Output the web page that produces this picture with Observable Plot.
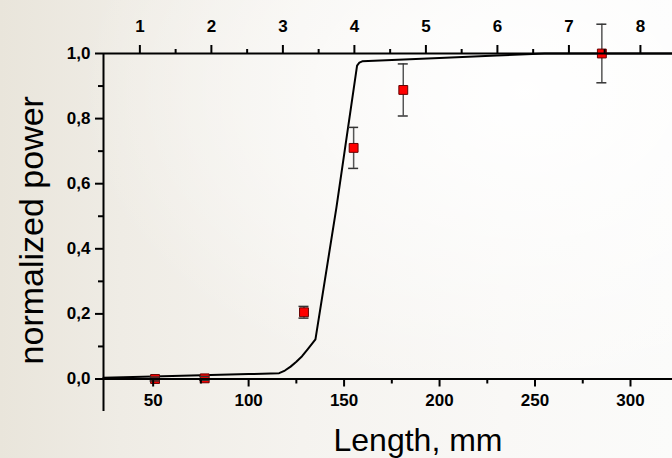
<!DOCTYPE html>
<html>
<head>
<meta charset="utf-8">
<script src="https://cdn.jsdelivr.net/npm/d3@7"></script>
<script src="https://cdn.jsdelivr.net/npm/@observablehq/plot@0.6"></script>
<style>
  html, body { margin: 0; padding: 0; }
  body {
    width: 672px; height: 458px; overflow: hidden;
    background:
      radial-gradient(ellipse at 78% 20%, rgba(255,255,255,0.95) 0%, rgba(255,255,255,0) 60%),
      linear-gradient(to right, #e9e5db 0%, #efece5 18%, #f5f3ef 45%, #f9f8f6 75%, #fbfbfa 100%);
  }
  #chart svg { display: block; }
</style>
</head>
<body>
<div id="chart"></div>
<script>
// Measured points: length (mm), normalized power, error
const lengthMm = [51, 77, 129, 155, 181, 285];
const power    = [0.0, 0.002, 0.205, 0.71, 0.888, 1.0];
const powerErr = [0.006, 0.006, 0.018, 0.063, 0.08, 0.09];

// Calculated curve
const curveLength = [24, 60, 100, 116, 119, 122, 125, 128, 131, 135, 146, 156.8, 158, 159.5, 200, 230, 255, 322];
const curvePower  = [0.004, 0.009, 0.015, 0.018, 0.026, 0.038, 0.053, 0.07, 0.092, 0.122, 0.527, 0.963, 0.972, 0.976, 0.986, 0.994, 1.0, 1.0];

// Axis ticks
const lengthTicks = [50, 100, 150, 200, 250, 300];
const lengthMinor = [75, 125, 175, 225, 275];
const powerTicks  = [0, 0.2, 0.4, 0.6, 0.8, 1.0];
const powerMinor  = [0.1, 0.3, 0.5, 0.7, 0.9];
const topTicks    = [1, 2, 3, 4, 5, 6, 7, 8];
const topMinor    = [1.5, 2.5, 3.5, 4.5, 5.5, 6.5, 7.5];

// Secondary (top) scale expressed in millimetres
const topOffset = 5.6, topStep = 37.45;
const topToLength = t => topOffset + topStep * t;
const lengthToTop = v => Math.round((v - topOffset) / topStep);

const points = lengthMm.map((x, i) => ({x, y: power[i], e: powerErr[i]}));
const curve = curveLength.map((x, i) => ({x, y: curvePower[i]}));

const comma = d => d.toFixed(1).replace(".", ",");
const blank = () => "";

const chart = Plot.plot({
  width: 672,
  height: 458,
  marginLeft: 103,
  marginRight: 0,
  marginTop: 53,
  marginBottom: 79.5,
  style: {
    background: "transparent",
    fontFamily: "'Liberation Sans', Arial, sans-serif",
    fontSize: "17px",
    fontWeight: "bold",
    color: "#000"
  },
  x: {domain: [24, 322]},
  y: {domain: [0, 1]},
  marks: [
    // calculated curve
    Plot.line(curve, {x: "x", y: "y", stroke: "#000", strokeWidth: 2, strokeLinejoin: "round"}),

    // error bars
    Plot.ruleX(points, {x: "x", y1: d => d.y - d.e, y2: d => d.y + d.e, stroke: "#555", strokeWidth: 1.5}),
    // squares
    Plot.dot(points, {x: "x", y: "y", symbol: "square", r: 5, fill: "#ff0000", stroke: "#600", strokeWidth: 1}),
    // caps
    Plot.ruleY(points, {y: d => d.y + d.e, x1: "x", x2: "x", insetLeft: -5, insetRight: -5, stroke: "#333", strokeWidth: 1.5}),
    Plot.ruleY(points, {y: d => d.y - d.e, x1: "x", x2: "x", insetLeft: -5, insetRight: -5, stroke: "#333", strokeWidth: 1.5}),

    // axis lines
    Plot.ruleY([0, 1], {stroke: "#000", strokeWidth: 2}),
    Plot.ruleX([24], {y1: -0.1, y2: 1, stroke: "#000", strokeWidth: 2}),

    // bottom axis (length)
    Plot.axisX(lengthTicks, {anchor: "bottom", tickSize: 8, tickPadding: 7, strokeWidth: 2, label: null}),
    Plot.axisX(lengthMinor, {anchor: "bottom", tickSize: 5, strokeWidth: 2, tickFormat: blank, label: null}),

    // top axis (secondary)
    Plot.axisX(topTicks.map(topToLength), {anchor: "top", tickSize: 9, tickPadding: 13, strokeWidth: 2, tickFormat: lengthToTop, label: null}),
    Plot.axisX(topMinor.map(topToLength), {anchor: "top", tickSize: 5, strokeWidth: 2, tickFormat: blank, label: null}),

    // left axis (normalized power)
    Plot.axisY(powerTicks, {anchor: "left", tickSize: 8, tickPadding: 5, strokeWidth: 2, tickFormat: comma, label: null}),
    Plot.axisY(powerMinor, {anchor: "left", tickSize: 5, strokeWidth: 2, tickFormat: blank, label: null}),

    // axis titles
    Plot.text(["Length, mm"], {frameAnchor: "bottom", lineAnchor: "middle", textAnchor: "middle", dx: 30, dy: 62, fontSize: 32, fontWeight: "normal", fill: "#000"}),
    Plot.text(["normalized power"], {frameAnchor: "left", lineAnchor: "middle", textAnchor: "middle", rotate: -90, dx: -71, dy: 14, fontSize: 34, fontWeight: "normal", fill: "#000"})
  ]
});

document.getElementById("chart").appendChild(chart);
</script>
</body>
</html>
